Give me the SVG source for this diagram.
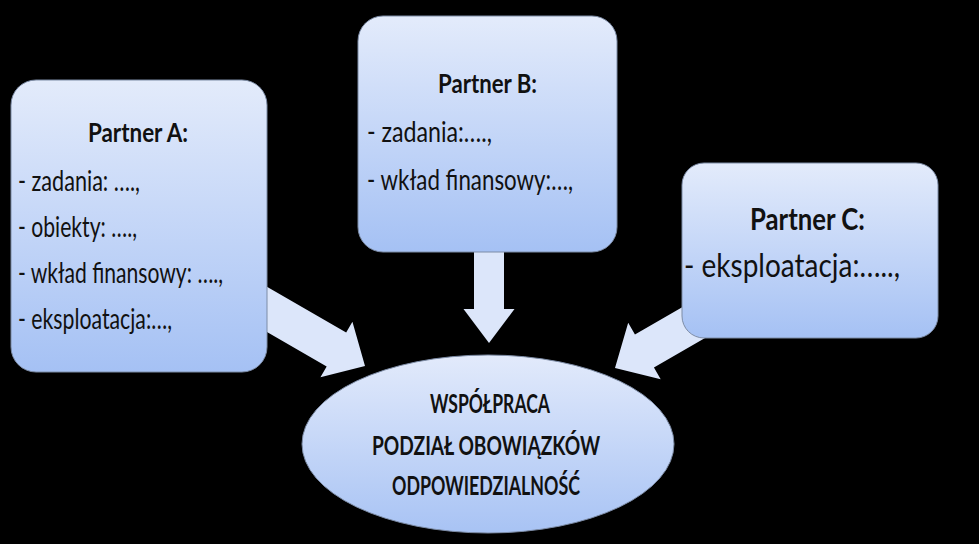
<svg xmlns="http://www.w3.org/2000/svg" width="979" height="544" viewBox="0 0 979 544">
<defs>
<linearGradient id="g" x1="0" y1="0" x2="0" y2="1">
<stop offset="0" stop-color="#e3ebfb"/>
<stop offset="1" stop-color="#a5c1f4"/>
</linearGradient>
<linearGradient id="ge" x1="0" y1="0" x2="0" y2="1">
<stop offset="0" stop-color="#e2eafb"/>
<stop offset="1" stop-color="#a8c3f4"/>
</linearGradient>
</defs>
<style>
.box{fill:url(#g);stroke:#7d8ca6;stroke-width:1}
.arr{fill:#dce6fa}
text{font-family:Lato,"Liberation Sans",sans-serif;fill:#111}
.t{font-weight:bold;font-size:26px;text-anchor:middle}
.b{font-size:29px}
.e{font-weight:bold;font-size:26px;text-anchor:middle}
</style>
<rect width="979" height="544" fill="#000"/>
<g id="connectors">
<polygon class="arr" transform="translate(365,366) rotate(30)" points="-135,-19.5 -33,-19.5 -33,-32 0,0 -33,32 -33,19.5 -135,19.5"/>
<polygon class="arr" transform="translate(489,343) rotate(90)" points="-100,-15 -34,-15 -34,-25.5 0,0 -34,25.5 -34,15 -100,15"/>
<polygon class="arr" transform="translate(615,368) rotate(150)" points="-110,-19 -34,-19 -34,-32.5 0,0 -34,32.5 -34,19 -110,19"/>
</g>
<g id="partnerA">
<rect class="box" x="11" y="80" width="256" height="292" rx="25"/>
<text class="t" x="138" y="142" textLength="100" lengthAdjust="spacingAndGlyphs">Partner A:</text>
<text class="b" x="18" y="191" textLength="122" lengthAdjust="spacingAndGlyphs">- zadania: ….,</text>
<text class="b" x="18" y="237" textLength="119" lengthAdjust="spacingAndGlyphs">- obiekty: ….,</text>
<text class="b" x="18" y="283" textLength="205" lengthAdjust="spacingAndGlyphs">- wkład finansowy: ….,</text>
<text class="b" x="18" y="329" textLength="154" lengthAdjust="spacingAndGlyphs">- eksploatacja:…,</text>
</g>
<g id="partnerB">
<rect class="box" x="358" y="16" width="259" height="236" rx="25"/>
<text class="t" x="487.5" y="93" textLength="99" lengthAdjust="spacingAndGlyphs">Partner B:</text>
<text class="b" x="367" y="142" textLength="125" lengthAdjust="spacingAndGlyphs">- zadania:….,</text>
<text class="b" x="367" y="190" textLength="206" lengthAdjust="spacingAndGlyphs">- wkład finansowy:…,</text>
</g>
<g id="partnerC">
<rect class="box" x="682" y="163" width="256" height="175" rx="22"/>
<text class="t" x="807.5" y="230" style="font-size:30px" textLength="115" lengthAdjust="spacingAndGlyphs">Partner C:</text>
<text class="b" x="684" y="277" style="font-size:33px" textLength="216" lengthAdjust="spacingAndGlyphs">- eksploatacja:…..,</text>
</g>
<g id="center">
<ellipse cx="488" cy="444" rx="186" ry="89" fill="url(#ge)" stroke="#7d8ca6" stroke-width="1"/>
<text class="e" x="490" y="413" textLength="120" lengthAdjust="spacingAndGlyphs">WSPÓŁPRACA</text>
<text class="e" x="486" y="455" textLength="228" lengthAdjust="spacingAndGlyphs">PODZIAŁ OBOWIĄZKÓW</text>
<text class="e" x="486" y="495" textLength="188" lengthAdjust="spacingAndGlyphs">ODPOWIEDZIALNOŚĆ</text>
</g>
</svg>
